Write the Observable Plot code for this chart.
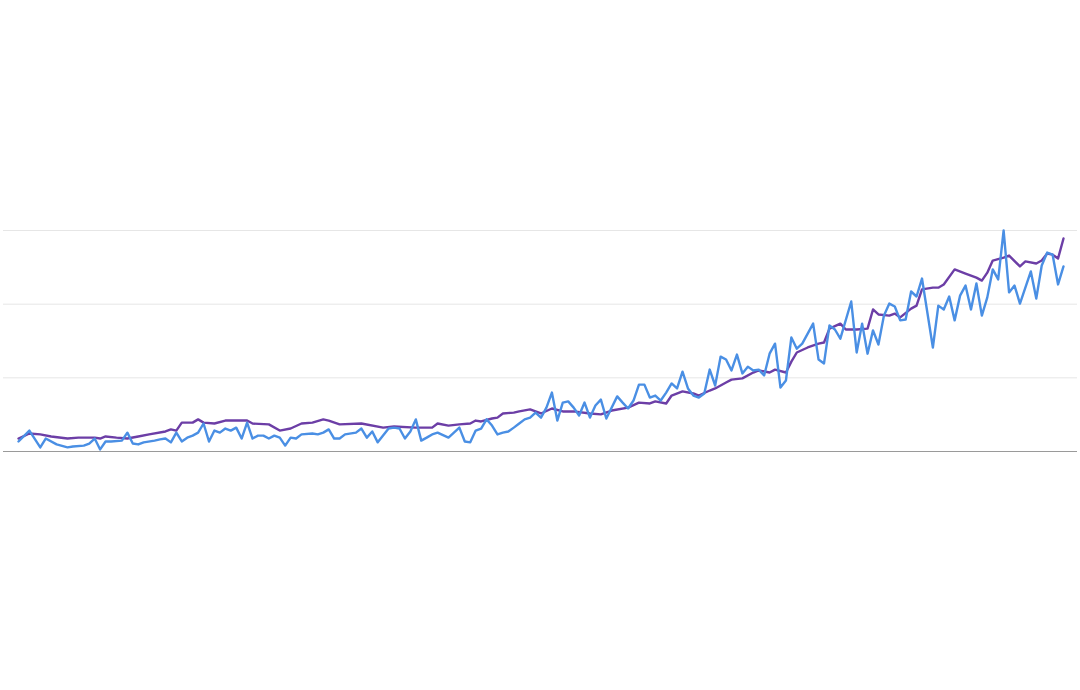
<!DOCTYPE html>
<html>
<head>
<meta charset="utf-8">
<script src="https://cdn.jsdelivr.net/npm/d3@7"></script>
<script src="https://cdn.jsdelivr.net/npm/@observablehq/plot@0.6"></script>
<style>
  html, body { margin: 0; padding: 0; background: #ffffff; }
  #chart svg { display: block; }
</style>
</head>
<body>
<div id="chart"></div>
<script>
// Month index (0 = first month) and interest values
const blueMonth = [0,2,4,5,7,9,10,12,13,14,15,16,17,19,20,21,22,23,25,26,27,28,29,30,31,32,33,34,35,36,37,38,39,40,41,42,43,44,45,46,47,48,49,50,51,52,54,55,56,57,58,59,60,62,63,64,65,66,68,69,70,71,72,73,74,75,76,77,79,80,81,82,83,84,85,86,87,88,89,90,91,92,93,94,95,96,97,98,99,100,101,102,103,104,105,106,107,108,110,111,112,113,114,115,116,117,118,119,120,121,122,123,124,125,126,127,128,129,130,131,132,133,134,135,136,137,138,139,140,141,142,143,144,146,147,148,149,150,151,153,154,155,156,157,158,159,160,161,162,163,164,165,166,168,169,170,171,172,173,174,175,176,177,178,179,180,181,182,183,184,186,187,188,189,190,191,192];
const blueValue = [3.4,7.1,1.4,4.4,2.4,1.4,1.7,2.0,2.7,4.4,0.7,3.4,3.4,3.7,6.4,2.7,2.4,3.1,3.7,4.1,4.4,3.1,6.4,3.4,4.7,5.4,6.4,9.5,3.4,7.1,6.4,7.8,7.1,8.1,4.4,9.8,4.4,5.4,5.4,4.4,5.4,4.7,2.0,4.7,4.4,5.8,6.1,5.8,6.4,7.5,4.4,4.4,5.8,6.4,7.8,4.7,6.8,3.1,7.8,8.1,7.8,4.4,6.8,10.9,3.7,4.7,5.8,6.4,4.7,6.4,8.1,3.4,3.1,7.1,7.8,10.9,8.8,5.8,6.4,6.8,8.1,9.5,10.9,11.5,13.2,11.5,14.9,20.0,10.5,16.6,17.0,14.9,12.2,16.6,11.5,15.6,17.6,11.2,18.7,16.6,14.6,17.3,22.7,22.7,18.3,19.0,17.3,20.0,23.1,21.4,27.1,21.4,19.0,18.3,19.7,27.8,22.4,32.2,31.2,27.5,32.9,26.5,28.8,27.5,27.8,25.8,33.2,36.6,21.7,24.1,38.7,34.9,36.6,43.4,31.2,29.9,42.8,41.4,38.3,50.9,33.6,43.4,33.2,41.1,36.3,46.1,50.2,49.2,44.5,44.8,54.3,52.6,58.7,35.3,49.5,48.2,52.6,44.5,52.9,56.3,48.2,57.0,46.1,52.3,61.8,58.4,75.0,54.0,56.3,50.2,61.1,51.9,63.1,67.5,66.8,56.7,62.8];

const purpleMonth = [0,2,4,6,9,11,14,15,16,18,20,22,24,27,28,29,30,32,33,34,36,38,42,43,46,48,50,52,54,56,57,59,63,67,69,73,76,77,79,81,83,84,85,87,88,89,91,92,94,96,98,100,102,105,107,109,112,114,116,117,119,120,122,124,125,127,128,130,131,133,135,136,138,139,141,142,143,145,147,148,149,151,152,154,156,157,158,160,161,162,164,165,166,168,169,170,172,174,176,177,178,179,181,182,184,185,187,188,189,190,191,192];
const purpleValue = [4.4,6.1,5.8,5.1,4.4,4.7,4.7,4.4,5.1,4.7,4.4,5.1,5.8,6.8,7.5,7.1,9.8,9.8,10.9,9.8,9.5,10.5,10.5,9.5,9.2,7.1,7.8,9.5,9.8,10.9,10.5,9.2,9.5,8.1,8.5,8.1,8.1,9.5,8.8,9.2,9.5,10.5,10.2,11.2,11.5,12.9,13.2,13.6,14.3,12.9,14.6,13.6,13.6,12.9,12.6,13.9,14.9,16.6,16.3,17.0,16.3,19.0,20.4,19.7,19.0,20.7,21.4,23.4,24.4,24.8,26.8,27.5,26.8,27.8,26.8,30.5,33.6,35.3,36.6,37.0,41.7,43.4,41.4,41.4,41.7,48.2,46.5,46.1,46.8,45.5,48.5,49.5,55.0,55.6,55.6,56.7,61.8,60.4,59.0,58.0,60.7,64.8,65.8,66.5,62.8,64.5,63.8,64.8,67.2,66.8,65.5,72.3];

const gridValues = [25, 50, 75];
const baseValue = [0];

const blueData = blueMonth.map((m, i) => ({month: m, value: blueValue[i]}));
const purpleData = purpleMonth.map((m, i) => ({month: m, value: purpleValue[i]}));

const chart = Plot.plot({
  width: 1080,
  height: 690,
  marginTop: 230,
  marginBottom: 239,
  marginLeft: 18,
  marginRight: 17,
  style: {background: "#ffffff", overflow: "visible"},
  x: {domain: [0, 192], axis: null},
  y: {domain: [0, 75], axis: null},
  marks: [
    Plot.ruleY(gridValues, {stroke: "#e6e6e6", strokeWidth: 1, insetLeft: -15, insetRight: -14}),
    Plot.ruleY(baseValue, {stroke: "#9a9a9a", strokeWidth: 1, insetLeft: -15, insetRight: -14}),
    Plot.line(purpleData, {x: "month", y: "value", stroke: "#6c3ea6", strokeWidth: 2.4}),
    Plot.line(blueData, {x: "month", y: "value", stroke: "#4a8fe4", strokeWidth: 2.4})
  ]
});
document.getElementById("chart").appendChild(chart);
</script>
</body>
</html>
